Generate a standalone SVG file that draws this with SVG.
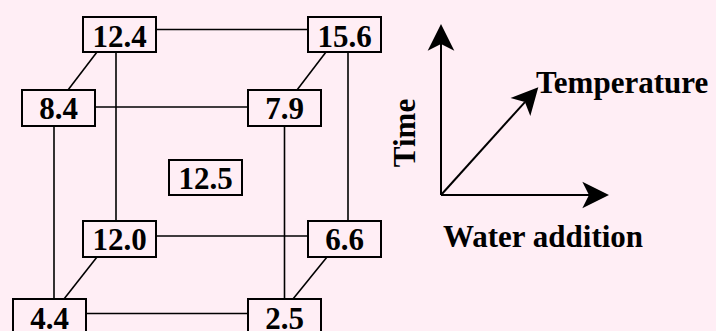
<svg xmlns="http://www.w3.org/2000/svg" width="716" height="331" viewBox="0 0 716 331">
<defs>
<style>
.box rect{fill:none;stroke:#000;stroke-width:2}
.box text{font-family:"Liberation Serif","Times New Roman",serif;font-weight:bold;font-size:31px;text-anchor:middle;fill:#000}
.lbl{font-family:"Liberation Serif","Times New Roman",serif;font-weight:bold;font-size:31px;fill:#000}
#connectors line{stroke:#000;stroke-width:1.6}
#axes line{stroke:#000;stroke-width:2}
</style>
<marker id="arr" markerUnits="userSpaceOnUse" markerWidth="40" markerHeight="40" refX="0" refY="0" orient="auto" overflow="visible" viewBox="-10 -15 30 30">
<path d="M15,0 L-5,-10 L0,0 L-5,10 Z" fill="#000"/>
</marker>
</defs>
<rect width="716" height="331" fill="#FFEEF5"/>
<g id="connectors">
<line x1="156" y1="29.5" x2="308" y2="29.5"/>
<line x1="95" y1="107" x2="248" y2="107"/>
<line x1="156" y1="236" x2="308" y2="236"/>
<line x1="86" y1="313.5" x2="248" y2="313.5"/>
<line x1="116" y1="52" x2="116" y2="221"/>
<line x1="54" y1="126" x2="54" y2="299"/>
<line x1="284.5" y1="126" x2="284.5" y2="299"/>
<line x1="348" y1="52" x2="348" y2="221"/>
<line x1="97" y1="52" x2="68" y2="90"/>
<line x1="326" y1="52" x2="297" y2="90"/>
<line x1="97" y1="257" x2="64" y2="299"/>
<line x1="327" y1="257" x2="293" y2="299"/>
</g>
<g id="n124" class="box"><rect x="83" y="17" width="73" height="35"/><text x="119.5" y="46.5">12.4</text></g>
<g id="n156" class="box"><rect x="308" y="17" width="73" height="35"/><text x="344.5" y="46.5">15.6</text></g>
<g id="n84" class="box"><rect x="22" y="90" width="73" height="36"/><text x="58.5" y="119">8.4</text></g>
<g id="n79" class="box"><rect x="248" y="90" width="73" height="36"/><text x="284.5" y="119">7.9</text></g>
<g id="n125" class="box"><rect x="169" y="160" width="73" height="35"/><text x="205.5" y="189">12.5</text></g>
<g id="n120" class="box"><rect x="83" y="221" width="73" height="36"/><text x="119.5" y="250">12.0</text></g>
<g id="n66" class="box"><rect x="308" y="221" width="73" height="36"/><text x="344.5" y="250">6.6</text></g>
<g id="n44" class="box"><rect x="13" y="299" width="73" height="40"/><text x="49.5" y="329">4.4</text></g>
<g id="n25" class="box"><rect x="248" y="299" width="73" height="40"/><text x="284.5" y="329">2.5</text></g>
<g id="axes">
<line x1="441" y1="195" x2="441" y2="44" marker-end="url(#arr)"/>
<line x1="441" y1="195" x2="589" y2="195" marker-end="url(#arr)"/>
<line x1="441" y1="195" x2="524.9" y2="102.1" marker-end="url(#arr)"/>
<text class="lbl" x="536" y="92.5">Temperature</text>
<text class="lbl" x="443" y="247">Water addition</text>
<text class="lbl" transform="translate(415,133) rotate(-90)" text-anchor="middle">Time</text>
</g>
</svg>
